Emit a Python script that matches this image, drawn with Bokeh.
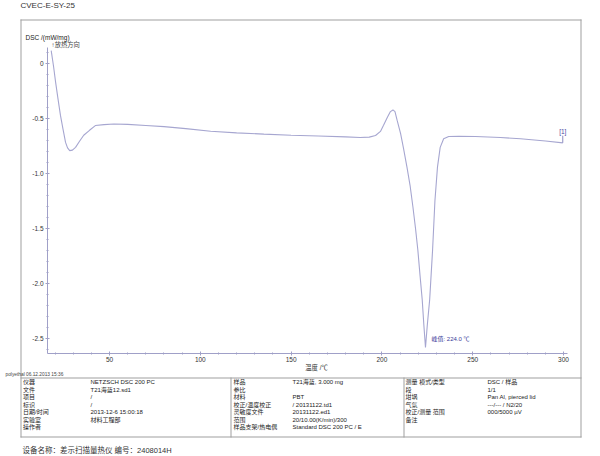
from bokeh.plotting import figure
from bokeh.models import Range1d, Label, FixedTicker, CustomJSTickFormatter, LinearAxis
from bokeh.embed import file_html
from bokeh.resources import INLINE

# ---- data (temperature in °C, DSC in mW/mg) ----
temperature = [17.9, 19.2, 20.3, 21.6, 23.0, 24.4, 25.8, 26.9, 28.1, 29.6, 31.3, 33.5,
               35.8, 39.0, 42.2, 47.0, 52.4, 60.0, 70.0, 80.0, 92.0, 105.7, 120.0,
               135.0, 150.0, 165.0, 180.0, 188.0, 193.0, 196.5, 199.2, 200.9, 203.1,
               204.7, 206.1, 207.2, 208.4, 210.3, 211.9, 213.8, 215.5, 217.1, 218.5,
               219.8, 221.0, 222.2, 223.1, 224.0, 225.0, 226.3, 227.9, 229.2, 230.6,
               232.1, 234.0, 236.8, 242.3, 251.5, 265.3, 276.3, 290.1, 299.6]
dsc = [0.115, -0.03, -0.17, -0.32, -0.475, -0.60, -0.72, -0.77, -0.795, -0.79, -0.765, -0.71,
       -0.655, -0.61, -0.567, -0.558, -0.553, -0.556, -0.566, -0.577, -0.595, -0.618, -0.633,
       -0.645, -0.655, -0.662, -0.670, -0.676, -0.672, -0.657, -0.62, -0.565, -0.49,
       -0.44, -0.425, -0.44, -0.52, -0.64, -0.775, -0.945, -1.11, -1.31, -1.50,
       -1.70, -1.93, -2.15, -2.38, -2.585, -2.38, -2.15, -1.70, -1.25, -0.945,
       -0.765, -0.687, -0.666, -0.664, -0.666, -0.675, -0.687, -0.707, -0.724]

peak_temperature = 224.0
peak_dsc = -2.585
peak_text = "峰值: 224.0 ℃"
curve_tag = "[1]"

x_axis_bounds = (15.86, 302.2)
y_axis_bounds = (-2.639, 0.143)
x_ticks = [50, 100, 150, 200, 250, 300]
x_minor_ticks = [20, 30, 40, 50, 60, 70, 80, 90, 100, 110, 120, 130, 140, 150, 160, 170,
                 180, 190, 200, 210, 220, 230, 240, 250, 260, 270, 280, 290, 300]
y_ticks = [0.0, -0.5, -1.0, -1.5, -2.0, -2.5]
y_minor_ticks = [0.1, 0.0, -0.1, -0.2, -0.3, -0.4, -0.5, -0.6, -0.7, -0.8, -0.9, -1.0,
                 -1.1, -1.2, -1.3, -1.4, -1.5, -1.6, -1.7, -1.8, -1.9, -2.0, -2.1, -2.2,
                 -2.3, -2.4, -2.5, -2.6]

title_text = "CVEC-E-SY-25"
y_title = "DSC /(mW/mg)"
exo_text = "↑放热方向"
x_title = "温度 /℃"
user_text = "polyethal  06.12.2013 15:36"
footer_text = "设备名称：差示扫描量热仪   编号：2408014H"

col1_labels = ["仪器", "文件", "项目", "标识", "日期/时间", "实验室", "操作者"]
col1_values = ["NETZSCH DSC 200 PC", "T21海蓝12.sd1", "/", "/", "2013-12-6 15:00:18", "材料工程部", ""]
col2_labels = ["样品", "参比", "材料", "校正/温度校正", "灵敏度文件", "范围", "样品支架/热电偶"]
col2_values = ["T21海蓝, 3.000 mg", "", "PBT", " / 20131122.td1", "20131122.ed1",
               "20/10.00(K/min)/300", "Standard DSC 200 PC / E"]
col3_labels = ["测量 模式/类型", "段", "坩埚", "气氛", "校正/测量 范围", "备注", ""]
col3_values = ["DSC / 样品", "1/1", "Pan Al, pierced lid", "---/--- / N2/20", "000/5000 µV", "", ""]

MIX = "Liberation Sans, Noto Sans CJK SC"
AXIS_COLOR = "#a0a0c8"
RULE_COLOR = "#a0a0a0"
WIDTH, HEIGHT = 600, 456
X_RANGE = (-10.02, 320.37)
Y_RANGE = (-3.5755, 0.57)

# the frame covers the whole page; the chart axes are pinned inside it
p = figure(width=WIDTH, height=HEIGHT, output_backend="svg", toolbar_location=None,
           x_range=Range1d(*X_RANGE), y_range=Range1d(*Y_RANGE),
           x_axis_location=None, y_axis_location=None, min_border=0)
p.grid.visible = False
p.outline_line_color = None
p.background_fill_color = "white"
p.border_fill_color = "white"

xaxis = LinearAxis(fixed_location=y_axis_bounds[0], bounds=x_axis_bounds)
yaxis = LinearAxis(fixed_location=x_axis_bounds[0], bounds=y_axis_bounds)
p.add_layout(xaxis, "below")
p.add_layout(yaxis, "left")

for ax in (xaxis, yaxis):
    ax.axis_line_color = AXIS_COLOR
    ax.major_tick_line_color = AXIS_COLOR
    ax.minor_tick_line_color = AXIS_COLOR
    ax.major_tick_in = 2
    ax.major_tick_out = 2
    ax.minor_tick_in = 1
    ax.minor_tick_out = 1
    ax.major_label_text_font = "Liberation Sans"
    ax.major_label_text_font_size = "6.5px"
    ax.major_label_text_color = "#333333"
    ax.major_label_standoff = 2

xaxis.ticker = FixedTicker(ticks=x_ticks, minor_ticks=x_minor_ticks)
yaxis.ticker = FixedTicker(ticks=y_ticks, minor_ticks=y_minor_ticks)
yaxis.formatter = CustomJSTickFormatter(code="return Math.abs(tick) < 1e-9 ? '0' : tick.toFixed(1);")


# page pixel -> data coordinates, used only for the decorative frame and table rules
def px_x(X):
    return X_RANGE[0] + X * (X_RANGE[1] - X_RANGE[0]) / WIDTH


def px_y(Y):
    return Y_RANGE[1] - Y * (Y_RANGE[1] - Y_RANGE[0]) / HEIGHT


p.line(temperature, dsc, line_color="#a6a6d0", line_width=1.1)
p.segment(x0=[temperature[-1]], y0=[dsc[-1]], x1=[temperature[-1]], y1=[dsc[-1] + 0.065],
          line_color="#8c8cc0", line_width=1)

# outer frame and table rules as thin filled bars (left, right, top, bottom in page pixels)
bars = [
    (20, 581, 19, 20),
    (20, 21, 19, 437),
    (580, 581, 19, 437),
    (20, 581, 436, 437),
    (20, 581, 377, 378),
    (230, 231, 377, 437),
    (403, 404, 377, 437),
]
p.quad(left=[px_x(b[0]) for b in bars], right=[px_x(b[1]) for b in bars],
       top=[px_y(b[2]) for b in bars], bottom=[px_y(b[3]) for b in bars],
       fill_color=RULE_COLOR, line_color=None)


def add_text(x, y, text, size, color="#222222", align="left", font=MIX):
    if text == "":
        return
    p.add_layout(Label(x=x, y=y, x_units="canvas", y_units="canvas", text=text,
                       text_font=font, text_font_size=f"{size}px", text_color=color,
                       text_align=align, text_baseline="middle"))


# texts around the chart
add_text(20, 5, title_text, 8, color="#333333")
add_text(25, 37, y_title, 6.5, color="#222222")
add_text(51, 44, exo_text, 6.3, color="#444444")
add_text(316, 367, x_title, 6.3, color="#333333", align="center")
add_text(5, 373.5, user_text, 4.8, color="#444444")
add_text(22, 450, footer_text, 7.5, color="#333333")

# peak annotation and curve tag
p.add_layout(Label(x=peak_temperature, y=peak_dsc, x_offset=6, y_offset=9, text=peak_text,
                   text_font=MIX, text_font_size="6px", text_color="#3a3a9a",
                   text_baseline="middle"))
p.add_layout(Label(x=temperature[-1], y=dsc[-1], y_offset=11, text=curve_tag,
                   text_font="Liberation Sans", text_font_size="6.5px", text_color="#4a4aa0",
                   text_align="center", text_baseline="middle"))

# table
row_y = [381.5, 389, 396.5, 404, 411.5, 419, 426.5]
for i in range(7):
    add_text(22.5, row_y[i], col1_labels[i], 6)
    add_text(90, row_y[i], col1_values[i], 6)
    add_text(233, row_y[i], col2_labels[i], 6)
    add_text(292, row_y[i], col2_values[i], 6)
    add_text(405, row_y[i], col3_labels[i], 6)
    add_text(487, row_y[i], col3_values[i], 6)

open("out.html", "w").write(file_html(p, INLINE))
